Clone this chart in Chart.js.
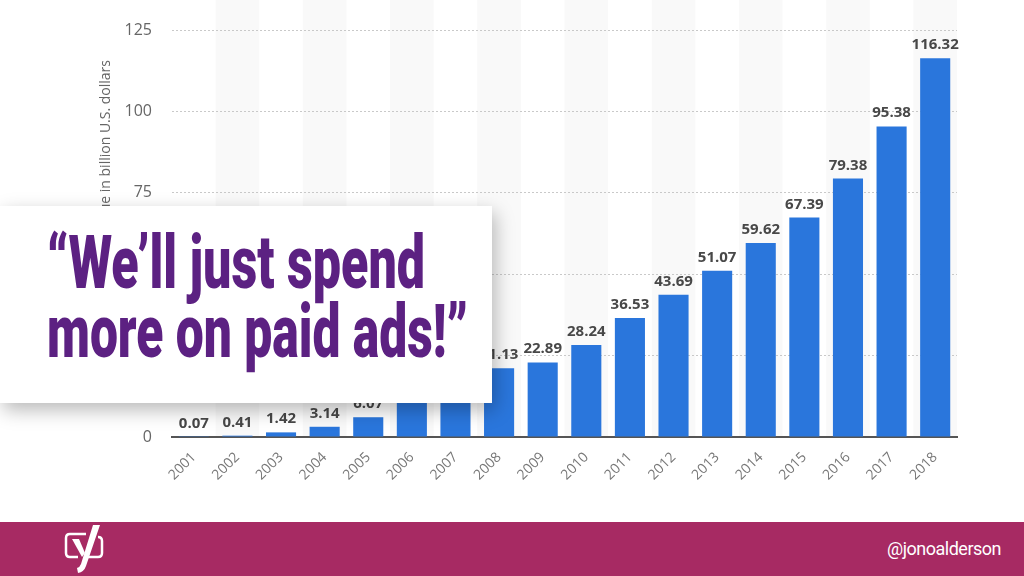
<!DOCTYPE html>
<html><head><meta charset="utf-8">
<script src="https://cdn.jsdelivr.net/npm/chart.js@4/dist/chart.umd.min.js"></script>
<style>
html,body{margin:0;padding:0;width:1024px;height:576px;overflow:hidden;background:#fff;}
#wrap{position:absolute;left:0;top:0;width:1024px;height:520px;}
#box{position:absolute;left:0;top:206px;width:492px;height:197px;background:#fff;box-shadow:3px 7px 18px rgba(0,0,0,0.28);}
.q{position:absolute;left:47px;color:#5c2182;font-family:Roboto,'Open Sans',sans-serif;font-weight:900;font-size:75px;line-height:1;white-space:nowrap;transform-origin:0 0;}
#footer{position:absolute;left:0;top:522px;width:1024px;height:54px;background:#a72a63;}
#handle{position:absolute;right:23px;top:0;line-height:54px;color:#fff;font-family:Roboto,sans-serif;font-size:18px;letter-spacing:-0.5px;}
#logo{position:absolute;left:0;top:0;}
</style></head>
<body>
<div id="wrap"><canvas id="c" width="1024" height="520"></canvas></div>
<div id="box">
  <div class="q" id="l1" style="top:19px">“We’ll just spend</div>
  <div class="q" id="l2" style="top:88px">more on paid ads!”</div>
</div>
<div id="footer">
  <svg id="logo" width="140" height="54" viewBox="0 0 140 54">
    <path d="M86 12 H70 Q66 12 66 16 V31 Q66 35 70 35 H78" fill="none" stroke="#fff" stroke-width="2.5"/>
    <path d="M98 15 Q102 15 102 19 V31 Q102 35 98 35 H88" fill="none" stroke="#fff" stroke-width="2.5"/>
    <path d="M72 17 L79 17 L85 31 L82 35 Z" fill="#fff"/>
    <path d="M93 3 L100 3 L86 44 Q84 50 78 51 L77 46 Q80 45 81 42 Z" fill="#fff"/>
  </svg>
  <div id="handle">@jonoalderson</div>
</div>
<script>
const years = ['2001','2002','2003','2004','2005','2006','2007','2008','2009','2010','2011','2012','2013','2014','2015','2016','2017','2018'];
const revenue = [0.07,0.41,1.42,3.14,6.07,10.49,16.41,21.13,22.89,28.24,36.53,43.69,51.07,59.62,67.39,79.38,95.38,116.32];
const yTicks = [0,25,50,75,100,125];
const yTitle = 'Advertising revenue in billion U.S. dollars';

const stripes = {
  id:'stripes',
  beforeDraw(chart){
    const {ctx, chartArea, scales:{x}} = chart;
    const w = x.width / years.length;
    ctx.save();
    ctx.fillStyle = '#f9f9f9';
    years.forEach((y,i)=>{
      if(i%2===1){ const c = x.getPixelForValue(i); ctx.fillRect(c-w/2, 0, w, chartArea.bottom); }
    });
    ctx.restore();
  }
};
const valueLabels = {
  id:'valueLabels',
  afterDatasetsDraw(chart){
    const {ctx} = chart;
    const meta = chart.getDatasetMeta(0);
    ctx.save();
    ctx.font = 'bold 15px "Open Sans", sans-serif';
    ctx.fillStyle = '#484848';
    ctx.textAlign = 'center';
    ctx.textBaseline = 'alphabetic';
    meta.data.forEach((el,i)=>{
      ctx.fillText(revenue[i].toFixed(2), el.x, el.y - 9);
    });
    ctx.restore();
  }
};
const axisTitle = {
  id:'axisTitle',
  afterDraw(chart){
    const {ctx, chartArea} = chart;
    ctx.save();
    ctx.translate(106, chartArea.top + 30);
    ctx.rotate(-Math.PI/2);
    ctx.font = '14px "Open Sans", sans-serif';
    ctx.fillStyle = '#666';
    ctx.textAlign = 'right';
    ctx.textBaseline = 'middle';
    ctx.fillText(yTitle, 0, 0);
    ctx.restore();
  }
};

new Chart(document.getElementById('c'), {
  type:'bar',
  data:{labels:years, datasets:[{data:revenue, backgroundColor:'#2a76dc', barPercentage:0.69, categoryPercentage:1}]},
  options:{
    responsive:false, animation:false,
    layout:{padding:{left:0,right:67,top:30,bottom:0}},
    plugins:{legend:{display:false}, tooltip:{enabled:false}},
    scales:{
      x:{
        grid:{display:false, drawTicks:false},
        border:{display:true, color:'#555', width:2},
        ticks:{color:'#777', font:{family:'Open Sans', size:14}, minRotation:45, maxRotation:45, padding:12, autoSkip:false},
        afterFit(s){ s.height = 83; }
      },
      y:{
        min:0, max:125,
        afterBuildTicks(s){ s.ticks = yTicks.map(v=>({value:v})); },
        grid:{color:'#c9c9c9', lineWidth:1, drawTicks:false},
        border:{display:false, dash:[2,2]},
        ticks:{color:'#666', font:{family:'Open Sans', size:16}, padding:20},
        afterFit(s){ s.width = 172; }
      }
    }
  },
  plugins:[stripes, valueLabels, axisTitle]
});

function fitLine(id, target){
  const el = document.getElementById(id);
  const w = el.getBoundingClientRect().width;
  el.style.transform = 'scaleX(' + (target / w) + ')';
}
fitLine('l1', 378);
fitLine('l2', 421);
</script>
</body></html>
